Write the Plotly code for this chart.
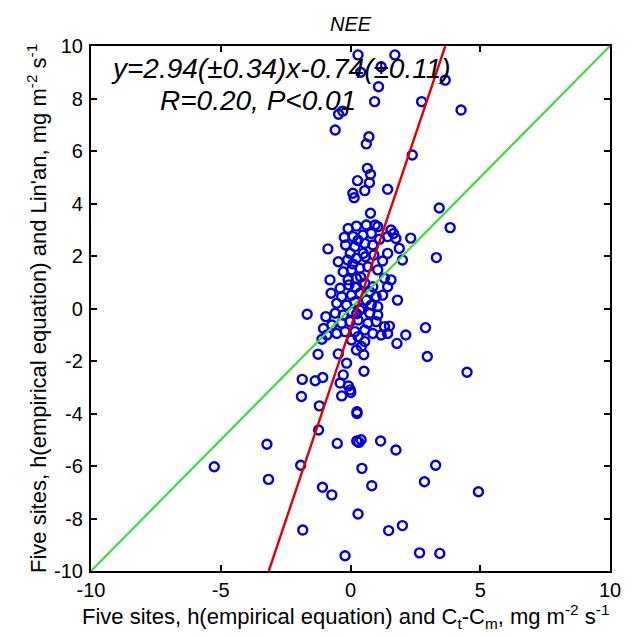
import plotly.graph_objects as go

# ---- data ----
x_vals = [
    # upper region
    0.29, 1.71, 0.39, 1.18, 1.08, 0.93, 2.74, -0.46, -0.30, -0.59, 0.71, 0.61, 2.38, 0.65, 0.77,
    0.27, 0.73, 0.55, 0.09, 0.14, 1.43, 0.77,
    # right side
    3.65, 4.26, 3.42, 3.84, 3.31, 2.89, 2.96, 4.49, 2.32,
    # dense cluster
    -0.09, 0.23, 0.61, 0.95, 1.05, 1.56, 1.66, -0.24, 0.10, 0.48, 0.80, 1.12, 1.43, 1.75,
    -0.87, -0.19, 0.17, 0.55, 0.86, 1.88, 1.43, -0.47, -0.11, 0.23, 0.57, 0.90, 1.24, 2.00,
    -0.28, 0.04, 0.36, 0.67, 1.05, -0.79, -0.40, -0.09, 0.23, 0.55, 0.86, 1.31, 1.56, 1.43,
    -0.75, -0.34, 0.04, 0.36, 0.74, 0.99, 1.24, 1.81, -0.53, -0.15, 0.17, 0.61, 0.80, 1.05,
    -1.67, -0.95, -0.59, -0.28, 0.04, 0.36, 0.74, 1.05, -1.04, -0.72, -0.34, -0.02, 0.29,
    0.67, 0.99, 1.31, 1.50, -0.91, -0.53, -0.21, 0.17, 0.55, 0.86, 1.18, 1.43,
    0.19, 0.39, 0.09, 0.44, 0.24, -0.06, 0.49, -0.01, 0.29,
    # lower cluster
    -1.10, 2.13, 1.79, 0.04, 0.29, 0.42, 0.55, 0.23, -1.25, -0.47, -0.15, 0.51, 0.52, -0.28,
    -1.86, -1.36, -1.07, -0.40, -0.08, -0.01, 0.01, -1.89, -0.34,
    # bottom region
    -1.20, 0.25, 0.25, -1.23, -3.22, -0.51, 0.24, 0.41, 0.32, 1.16, 1.75, -5.25, -1.92, 0.44,
    3.28, -3.16, 2.85, -1.08, -0.72, 0.82, 4.93, 0.29, -1.84, 1.47, 2.00, -0.21, 2.66, 3.44,
]
y_vals = [
    9.66, 9.66, 9.0, 9.21, 8.45, 7.88, 7.88, 7.4, 7.52, 6.8, 6.54, 6.27, 5.85, 5.34, 5.11,
    4.87, 4.79, 4.49, 4.39, 4.22, 4.54, 3.63,
    8.7, 7.56, 3.83, 3.08, 1.94, -0.73, -1.83, -2.43, 2.68,
    3.05, 3.14, 3.18, 3.18, 3.12, 2.99, 2.86, 2.71, 2.74, 2.80, 2.86, 2.64, 2.74, 2.67,
    2.27, 2.42, 2.36, 2.48, 2.42, 2.29, 2.10, 1.78, 1.85, 1.91, 1.97, 2.04, 1.81, 1.85,
    1.40, 1.47, 1.53, 1.59, 1.47, 1.09, 0.77, 1.09, 1.15, 0.96, 0.83, 1.15, 1.09, 0.83,
    0.58, 0.45, 0.51, 0.58, 0.64, 0.45, 0.51, 0.32, 0.20, 0.13, 0.26, 0.32, 0.13, 0.07,
    -0.22, -0.31, -0.18, -0.25, -0.12, -0.06, -0.18, -0.25, -0.76, -0.63, -0.56, -0.50, -0.44,
    -0.56, -0.50, -0.69, -0.67, -1.01, -0.95, -0.88, -0.88, -0.82, -0.95, -1.01, -0.95,
    0.8, 1.2, 1.7, 0.0, -0.2, 0.9, 2.1, 2.1, 2.6,
    -1.17, -1.01, -1.33, -1.2, -1.07, -1.45, -1.26, -1.58, -1.74, -1.73, -2.08, -1.76, -2.39, -2.53,
    -2.7, -2.75, -2.63, -2.84, -2.95, -3.1, -3.2, -3.35, -3.33,
    -3.71, -3.93, -4.0, -4.63, -5.17, -5.14, -5.05, -5.0, -5.1, -5.05, -5.39, -6.03, -5.97, -6.09,
    -5.97, -6.51, -6.6, -6.81, -7.1, -6.75, -6.98, -7.83, -8.44, -8.46, -8.27, -9.42, -9.31, -9.33,
]

fit_slope = 2.94
fit_intercept = -0.74
axis_min, axis_max = -10, 10
x_ticks = [-10, -5, 0, 5, 10]
x_ticklabels = ["-10", "-5", "0", "5", "10"]
y_ticks = [-10, -8, -6, -4, -2, 0, 2, 4, 6, 8, 10]
y_ticklabels = ["-10", "-8", "-6", "-4", "-2", "0", "2", "4", "6", "8", "10"]

title_text = "<i>NEE</i>"
eq_line1 = "<i>y=2.94(±0.34)x-0.74(±0.11)</i>"
eq_line2 = "<i>R=0.20, P<0.01</i>"
x_title = "Five sites, h(empirical equation) and C<sub>t</sub>-C<sub>m</sub>, mg m<sup>-2</sup> s<sup>-1</sup>"
y_title = "Five sites, h(empirical equation) and Lin'an, mg m<sup>-2</sup> s<sup>-1</sup>"

# fitted line endpoints clipped to the axis box
fx = [(axis_min - fit_intercept) / fit_slope, (axis_max - fit_intercept) / fit_slope]
fy = [fit_slope * v + fit_intercept for v in fx]

FONT = "Liberation Sans, Arial, Helvetica, sans-serif"
BLUE = "#0000d8"

fig = go.Figure()
fig.add_trace(go.Scatter(
    x=x_vals, y=y_vals, mode="markers",
    marker=dict(symbol="circle-open", size=9, color=BLUE, line=dict(width=2.4, color=BLUE)),
    showlegend=False, hoverinfo="skip"))
fig.add_trace(go.Scatter(
    x=[axis_min, axis_max], y=[axis_min, axis_max], mode="lines",
    line=dict(color="#3fdc3f", width=2.2), showlegend=False, hoverinfo="skip"))
fig.add_trace(go.Scatter(
    x=fx, y=fy, mode="lines",
    line=dict(color="#e00000", width=2.4), showlegend=False, hoverinfo="skip"))

axis_common = dict(
    range=[axis_min, axis_max], showgrid=False, zeroline=False, showline=True,
    linecolor="black", linewidth=2.2, mirror="allticks", ticks="inside",
    ticklen=6, tickwidth=1.8, tickcolor="black",
    tickfont=dict(family=FONT, size=20, color="black"),
)

fig.update_layout(
    width=633, height=638,
    margin=dict(l=91, r=18, t=46, b=67),
    paper_bgcolor="white", plot_bgcolor="white",
    xaxis=dict(**axis_common, tickvals=x_ticks, ticktext=x_ticklabels, ticklabelstandoff=0),
    yaxis=dict(**axis_common, tickvals=y_ticks, ticktext=y_ticklabels, ticklabelstandoff=2),
    font=dict(family=FONT, color="black"),
    annotations=[
        dict(text=title_text, xref="paper", yref="paper", x=0.5, y=1.042,
             xanchor="center", yanchor="middle", showarrow=False,
             font=dict(size=20, family=FONT, color="black")),
        dict(text=eq_line1, xref="paper", yref="paper", x=0.034, y=0.958,
             xanchor="left", yanchor="middle", showarrow=False,
             font=dict(size=28, family=FONT, color="black")),
        dict(text=eq_line2, xref="paper", yref="paper", x=0.13, y=0.897,
             xanchor="left", yanchor="middle", showarrow=False,
             font=dict(size=28, family=FONT, color="black")),
        dict(text=x_title, xref="paper", yref="paper", x=0.49, y=-0.086,
             xanchor="center", yanchor="middle", showarrow=False,
             font=dict(size=22, family=FONT, color="black")),
        dict(text=y_title, xref="paper", yref="paper", x=-0.105, y=0.5,
             xanchor="center", yanchor="middle", showarrow=False, textangle=-90,
             font=dict(size=22, family=FONT, color="black")),
    ],
)

fig.write_html("out.html")
